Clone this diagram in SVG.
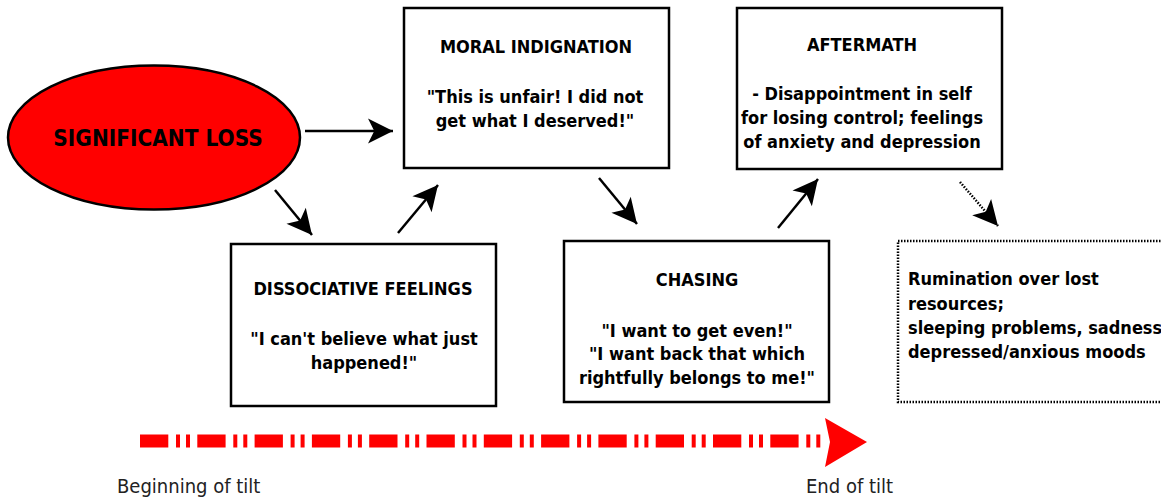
<svg xmlns="http://www.w3.org/2000/svg" width="1161" height="500" viewBox="0 0 1161 500">
<style>
text{font-family:"DejaVu Sans Condensed","DejaVu Sans",sans-serif;font-stretch:condensed;font-weight:bold;fill:#000}
.t{font-size:18px}
.c{text-anchor:middle}
.box{fill:#fff;stroke:#000;stroke-width:2.5}
.ar{fill:none;stroke:#000;stroke-width:2.5;marker-end:url(#ah)}
.lbl{font-weight:normal;font-size:20px;fill:#222}
</style>
<defs>
<marker id="ah" markerUnits="userSpaceOnUse" markerWidth="30" markerHeight="30" viewBox="-22 -12 24 24" refX="0" refY="0" orient="auto">
<path d="M0,0 L-20,-10 L-15,0 L-20,10 Z" fill="#000"/>
</marker>
</defs>
<rect width="1161" height="500" fill="#fff"/>
<g id="significant-loss">
<ellipse cx="154" cy="137.5" rx="146" ry="72" fill="#f00" stroke="#000" stroke-width="2.5"/>
<text class="c" x="158" y="146" style="font-size:22.4px">SIGNIFICANT LOSS</text>
</g>
<g id="moral-indignation">
<rect class="box" x="404" y="8" width="265" height="160"/>
<text class="t c" x="536" y="53">MORAL INDIGNATION</text>
<text class="t c" x="535" y="103">"This is unfair! I did not</text>
<text class="t c" x="535" y="127">get what I deserved!"</text>
</g>
<g id="aftermath">
<rect class="box" x="737" y="8" width="265" height="161"/>
<text class="t c" x="862" y="51">AFTERMATH</text>
<text class="t c" x="862" y="100">- Disappointment in self</text>
<text class="t c" x="862" y="124">for losing control; feelings</text>
<text class="t c" x="862" y="148">of anxiety and depression</text>
</g>
<g id="dissociative-feelings">
<rect class="box" x="231" y="244" width="265" height="162"/>
<text class="t c" x="363" y="295">DISSOCIATIVE FEELINGS</text>
<text class="t c" x="364" y="345">"I can't believe what just</text>
<text class="t c" x="364" y="369">happened!"</text>
</g>
<g id="chasing">
<rect class="box" x="564" y="241" width="265" height="161"/>
<text class="t c" x="697" y="286">CHASING</text>
<text class="t c" x="697" y="337">"I want to get even!"</text>
<text class="t c" x="697" y="360">"I want back that which</text>
<text class="t c" x="697" y="384">rightfully belongs to me!"</text>
</g>
<g id="rumination">
<rect x="898" y="241" width="280" height="161" fill="#fff" stroke="#000" stroke-width="2.5" stroke-dasharray="1.5 1.5"/>
<text class="t" x="908" y="285">Rumination over lost</text>
<text class="t" x="908" y="310">resources;</text>
<text class="t" x="908" y="334">sleeping problems, sadness,</text>
<text class="t" x="908" y="358">depressed/anxious moods</text>
</g>
<g id="connectors">
<line class="ar" x1="305" y1="131" x2="393" y2="131"/>
<line class="ar" x1="275" y1="190" x2="312" y2="235"/>
<line class="ar" x1="398" y1="233" x2="438" y2="185"/>
<line class="ar" x1="599" y1="178" x2="637" y2="224"/>
<line class="ar" x1="778" y1="228" x2="818" y2="179"/>
<line x1="960" y1="182" x2="998" y2="226" fill="none" stroke="#000" stroke-width="2.5" stroke-dasharray="1.5 1.5" marker-end="url(#ah)"/>
</g>
<g id="timeline">
<line x1="140" y1="441" x2="825" y2="441" stroke="#f00" stroke-width="13" stroke-dasharray="28.3 7.7 4 6 4 7.3"/>
<path d="M825,418 L867,442 L825,467 L830,442 Z" fill="#f00"/>
<text class="lbl" x="117" y="493">Beginning of tilt</text>
<text class="lbl" x="806" y="493">End of tilt</text>
</g>
</svg>
